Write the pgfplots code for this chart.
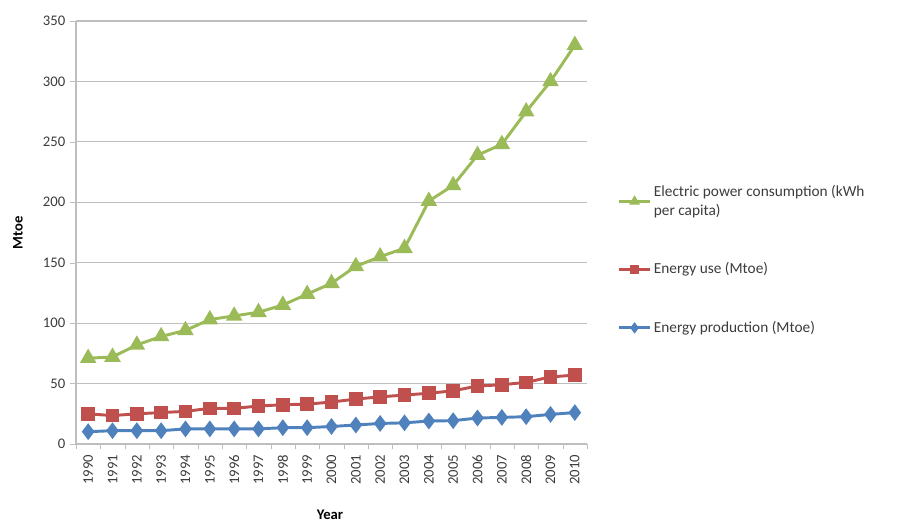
\documentclass[border=0pt]{standalone}
\usepackage{fontspec}
\setmainfont{Carlito}
\usepackage{pgfplots}
\pgfplotsset{compat=1.18}
\definecolor{cgreen}{HTML}{9BBB59}
\definecolor{cred}{HTML}{C0504D}
\definecolor{cblue}{HTML}{4F81BD}
\definecolor{cgrid}{RGB}{190,190,190}
\definecolor{ctext}{RGB}{60,60,60}
\begin{document}
\begin{tikzpicture}
\useasboundingbox (0pt,0pt) rectangle (677.25pt,393.75pt);
\begin{axis}[
  at={(57pt,60.75pt)}, anchor=south west,
  scale only axis, width=383.25pt, height=317.25pt,
  xmin=1989.5, xmax=2010.5, ymin=0, ymax=350,
  axis lines=left, axis line style={-, draw=cgrid, line width=0.8pt},
  xtick={1990,...,2010}, major x tick style={draw=none},
  minor xtick={1989.5,1990.5,...,2010.5}, minor x tick style={draw=cgrid},
  minor tick length=4pt,
  ytick={0,50,...,350}, y tick style={draw=cgrid},
  tick align=outside, major tick length=4.5pt,
  ymajorgrids, grid style={draw=cgrid, line width=0.8pt},
  /pgf/number format/assume math mode=true,
  /pgf/number format/1000 sep={},
  tick label style={font=\fontsize{11}{13}\selectfont, text=ctext},
  x tick label style={rotate=90, anchor=east},
  xlabel={\textbf{Year}}, ylabel={\textbf{Mtoe}},
  xlabel style={at={(axis description cs:0.497,-0.168)}, anchor=center, font=\fontsize{11}{13}\selectfont},
  ylabel style={at={(axis description cs:-0.1135,0.5)}, anchor=center, font=\fontsize{11}{13}\selectfont},
  legend style={at={(1.06,0.618)}, anchor=north west, draw=none, fill=none,
    font=\fontsize{11.5}{14}\selectfont, text=ctext, row sep=30pt, inner sep=0pt,
    cells={anchor=west, align=left}},
  legend image code/.code={\draw[mark repeat=2, mark phase=2, mark size=2.5pt] plot coordinates {(0cm,0cm) (0.4cm,0cm) (0.8cm,0cm)};},
  every axis plot/.append style={line width=2.2pt},
]
\addplot[color=cgreen, mark=triangle*, mark size=5pt, mark options={solid}] coordinates {
(1990,71) (1991,72) (1992,82) (1993,89) (1994,94) (1995,103) (1996,106) (1997,109)
(1998,115) (1999,124) (2000,133) (2001,147) (2002,155) (2003,162) (2004,201)
(2005,214) (2006,239) (2007,248) (2008,275) (2009,300) (2010,330)};
\addlegendentry{Electric power consumption (kWh\\per capita)}
\addplot[color=cred, mark=square*, mark size=4pt, mark options={solid}] coordinates {
(1990,25) (1991,23.5) (1992,25) (1993,26) (1994,27) (1995,29.5) (1996,29.5) (1997,31.4)
(1998,32.5) (1999,33) (2000,34.7) (2001,37.2) (2002,39) (2003,40.5) (2004,42)
(2005,44) (2006,48) (2007,49) (2008,51) (2009,55.5) (2010,57)};
\addlegendentry{Energy use (Mtoe)}
\addplot[color=cblue, mark=diamond*, mark size=4.5pt, mark options={solid}] coordinates {
(1990,10.2) (1991,11) (1992,11) (1993,11) (1994,12.5) (1995,12.5) (1996,12.5) (1997,12.5)
(1998,13.5) (1999,13.5) (2000,14.5) (2001,15.7) (2002,17) (2003,17.5) (2004,19)
(2005,19.3) (2006,21.5) (2007,22) (2008,22.6) (2009,24.5) (2010,26)};
\addlegendentry{Energy production (Mtoe)}
\end{axis}
\end{tikzpicture}
\end{document}
